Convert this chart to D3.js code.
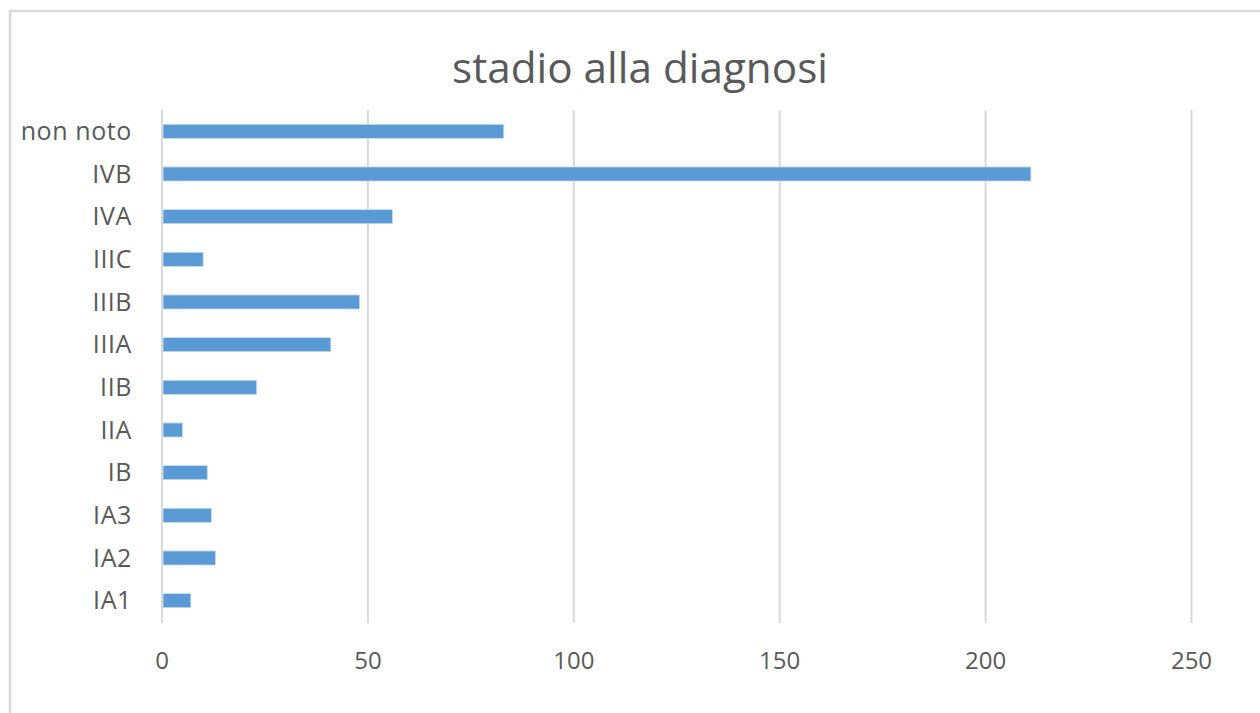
<!DOCTYPE html>
<html><head><meta charset="utf-8">
<script src="https://cdn.jsdelivr.net/npm/d3@7"></script>
<style>html,body{margin:0;padding:0;background:#fff;}svg{display:block;}</style>
</head><body>
<svg id="c" width="1260" height="713"></svg>
<script>
const categories = ["non noto","IVB","IVA","IIIC","IIIB","IIIA","IIB","IIA","IB","IA3","IA2","IA1"];
const values = [83,211,56,10,48,41,23,5,11,12,13,7];
const tickValues = [0,50,100,150,200,250];
const title = "stadio alla diagnosi";

const svg = d3.select("#c");
const font = "'Open Sans', 'Liberation Sans', sans-serif";
const textColor = "#595959";

svg.append("rect").attr("x",10).attr("y",11).attr("width",1260).attr("height",720)
  .attr("fill","#fff").attr("stroke","#d9d9d9").attr("stroke-width",2.5);

const x = d3.scaleLinear().domain([0,250]).range([162,1191.5]);
const y = d3.scaleBand().domain(categories).range([110,622]).paddingInner(0.67).paddingOuter(0.335);

// gridlines
svg.append("g").selectAll("line").data(tickValues).join("line")
  .attr("x1",d=>x(d)).attr("x2",d=>x(d)).attr("y1",110).attr("y2",623)
  .attr("stroke","#d9d9d9").attr("stroke-width",2);

// bars
svg.append("g").selectAll("rect").data(categories).join("rect")
  .attr("x",x(0)+1).attr("y",d=>y(d))
  .attr("width",(d,i)=>x(values[i])-x(0)-1).attr("height",y.bandwidth())
  .attr("fill","#5b9bd5").attr("stroke","#c9def2").attr("stroke-width",0.8);

// y labels
svg.append("g").selectAll("text").data(categories).join("text")
  .attr("x",132).attr("y",d=>y(d)+y.bandwidth()/2).attr("dy","0.35em")
  .attr("text-anchor","end").attr("font-family",font).attr("font-size",25)
  .attr("letter-spacing",0.6)
  .attr("fill",textColor).text(d=>d);

// x tick labels
svg.append("g").selectAll("text").data(tickValues).join("text")
  .attr("x",d=>x(d)).attr("y",661).attr("dy","0.35em")
  .attr("text-anchor","middle").attr("font-family",font).attr("font-size",24)
  .attr("fill",textColor).text(d=>d);

// title
const t = svg.append("text").attr("x",640).attr("y",68).attr("dy","0.35em")
  .attr("text-anchor","middle").attr("font-family",font).attr("font-size",36)
  .attr("fill",textColor).text(title);
const w = t.node().getComputedTextLength();
t.attr("font-size", 36*376/w);
</script>
</body></html>
